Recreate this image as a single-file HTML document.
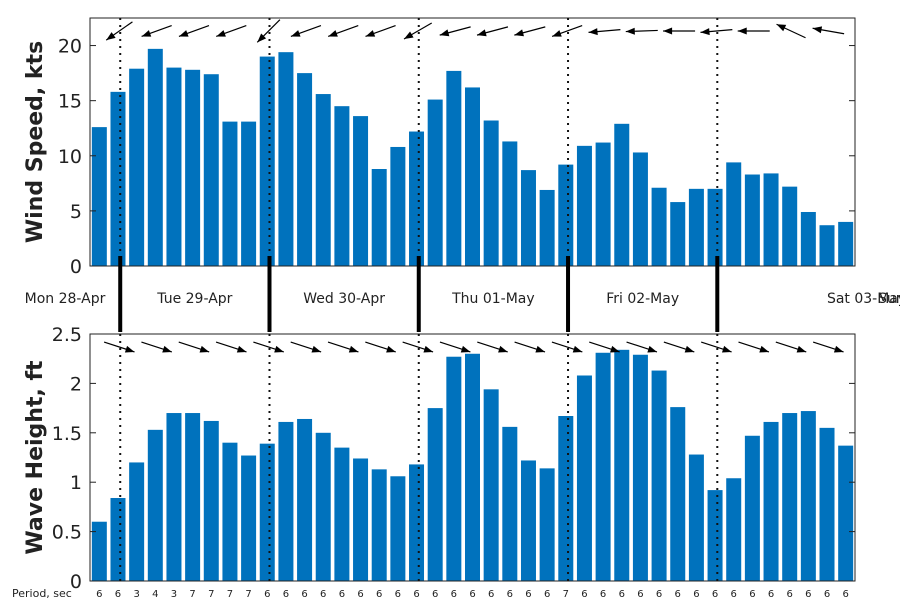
<!DOCTYPE html>
<html><head><meta charset="utf-8"><style>
body{margin:0;background:#fff;}
svg text{font-family:"DejaVu Sans","Liberation Sans",sans-serif;fill:#222;}
</style></head><body>
<svg id="chart" width="900" height="600" xmlns="http://www.w3.org/2000/svg"></svg>
<script>
const windSpeed=[12.6,15.8,17.9,19.7,18,17.8,17.4,13.1,13.1,19,19.4,17.5,15.6,14.5,13.6,8.8,10.8,12.2,15.1,17.7,16.2,13.2,11.3,8.7,6.9,9.2,10.9,11.2,12.9,10.3,7.1,5.8,7.0,7.0,9.4,8.3,8.4,7.2,4.9,3.7,4.0];
const waveHeight=[0.6,0.84,1.2,1.53,1.7,1.7,1.62,1.4,1.27,1.39,1.61,1.64,1.5,1.35,1.24,1.13,1.06,1.18,1.75,2.27,2.3,1.94,1.56,1.22,1.14,1.67,2.08,2.31,2.34,2.29,2.13,1.76,1.28,0.92,1.04,1.47,1.61,1.7,1.72,1.55,1.37];
const periods=[6,6,3,4,3,7,7,7,7,6,6,6,6,6,6,6,6,6,6,6,6,6,6,6,6,7,6,6,6,6,6,6,6,6,6,6,6,6,6,6,6];
const windDir=[215,200,200,200,225,200,200,200,210,195,195,195,200,185,182,180,185,180,155,170];
const waveDir=[-18,-18,-18,-18,-18,-18,-18,-18,-18,-18,-18,-18,-18,-18,-18,-18,-18,-18,-18,-18];
const dayLabels=["Mon 28-Apr","Tue 29-Apr","Wed 30-Apr","Thu 01-May","Fri 02-May","Sat 03-May","Sun"];
const windTicks=[0,5,10,15,20];
const waveTicks=[0,0.5,1,1.5,2,2.5];
const midnightIdx=[1.12,9.12,17.12,25.12,33.12];

const NS="http://www.w3.org/2000/svg";
const svg=document.getElementById('chart');
function el(t,a,p){const e=document.createElementNS(NS,t);for(const k in a)e.setAttribute(k,a[k]);(p||svg).appendChild(e);return e;}
const L=90,R=855,N=windSpeed.length,step=(R-L)/N;
const xS=i=>L+step*(i+0.5);
const top1=18,bot1=266,yW=v=>bot1-v*(bot1-top1)/22.5;
const top2=334,bot2=581,yH=v=>bot2-v*(bot2-top2)/2.5;
const bw=15;

function panel(vals,yF,bot,top,ticks,fmt,title,name,tcy){
  const g=el('g',{});
  
  
  vals.forEach((v,i)=>{
    const r=el('rect',{x:xS(i)-bw/2,y:yF(v),width:bw,height:bot-yF(v),fill:'#0072bd'},g);
    
    
  });
  const f=el('rect',{x:L,y:top,width:R-L,height:bot-top,fill:'none',stroke:'#222','stroke-width':1},g);
  
  
  ticks.forEach(t=>{
    el('line',{x1:L,x2:L+6,y1:yF(t),y2:yF(t),stroke:'#222'},g);
    el('line',{x1:R,x2:R-6,y1:yF(t),y2:yF(t),stroke:'#222'},g);
    const tx=el('text',{x:L-8,y:yF(t)+7,'text-anchor':'end','font-size':19},g);
    tx.textContent=fmt(t);
    
    
  });
  midnightIdx.forEach(m=>{
    el('line',{x1:xS(m),x2:xS(m),y1:top,y2:bot,stroke:'#111','stroke-width':2,'stroke-dasharray':'2,5'},g);
  });
  const tt=el('text',{x:0,y:0,'text-anchor':'middle','font-size':22,'font-weight':'bold',transform:`translate(${tcy},${(top+bot)/2}) rotate(-90)`},g);
  tt.textContent=title;
  
  
  return g;
}
panel(windSpeed,yW,bot1,top1,windTicks,t=>String(t),'Wind Speed, kts','wind',42);
panel(waveHeight,yH,bot2,top2,waveTicks,t=>String(t),'Wave Height, ft','wave',42);

function arrows(dirs,yc,name){
  dirs.forEach((d,k)=>{
    const cx=xS(2*k)+20,len=32,a=d*Math.PI/180;
    const dx=Math.cos(a)*len/2,dy=-Math.sin(a)*len/2;
    const x1=cx-dx,y1=yc-dy,x2=cx+dx,y2=yc+dy;
    const g=el('g',{});
    
    
    el('line',{x1,y1,x2,y2,stroke:'#000','stroke-width':1.2},g);
    const ux=(x2-x1)/len,uy=(y2-y1)/len,h=9,w=3.5;
    const bx=x2-ux*h,by=y2-uy*h;
    el('polygon',{points:`${x2},${y2} ${bx-uy*w},${by+ux*w} ${bx+uy*w},${by-ux*w}`,fill:'#000'},g);
  });
}
arrows(windDir,31,'wind');
arrows(waveDir,347,'wave');

midnightIdx.forEach(m=>{
  const l=el('line',{x1:xS(m),x2:xS(m),y1:256,y2:332,stroke:'#000','stroke-width':4});
  
  
});
const bounds=[-5].concat(midnightIdx).concat([49.12]);
dayLabels.forEach((d,i)=>{
  let cx=(xS(bounds[i])+xS(bounds[i+1]))/2;
  if(i===0)cx=65;
  const t=el('text',{x:i===6?878:cx,y:303,'text-anchor':i===6?'start':'middle','font-size':14});
  t.textContent=d;
  
  
});
const pl=el('text',{x:12,y:597,'font-size':11});
pl.textContent='Period, sec';


periods.forEach((p,i)=>{
  const t=el('text',{x:xS(i),y:597,'text-anchor':'middle','font-size':10});
  t.textContent=p;
  
  
});
</script>
</body></html>
